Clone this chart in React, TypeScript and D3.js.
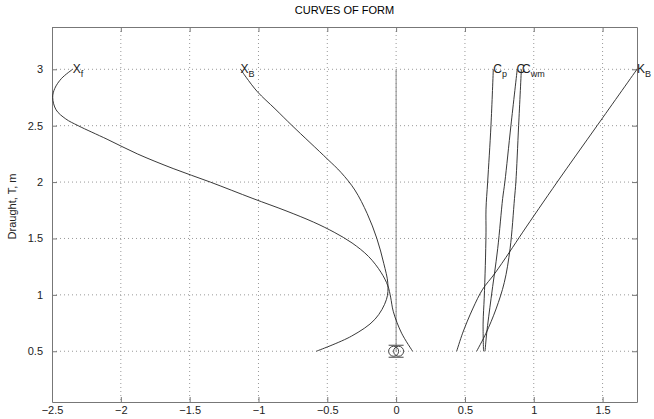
import * as d3 from 'd3';
import { useEffect, useRef } from 'react';

// curves of form: [x, draught] pairs
const xfPoints: [number, number][] = [
  [-2.35, 3.0], [-2.43, 2.92], [-2.48, 2.83], [-2.495, 2.75], [-2.47, 2.64],
  [-2.40, 2.56], [-2.31, 2.5], [-2.1, 2.38], [-1.88, 2.25], [-1.62, 2.12],
  [-1.35, 2.0], [-1.04, 1.854], [-0.8, 1.745], [-0.6, 1.645], [-0.45, 1.555],
  [-0.32, 1.46], [-0.2, 1.34], [-0.11, 1.2], [-0.06, 1.08], [-0.04, 0.98],
  [-0.02, 0.85], [0.04, 0.66], [0.12, 0.5],
];
const xbPoints: [number, number][] = [
  [-1.13, 3.0], [-1.09, 2.93], [-1.007, 2.8], [-0.88, 2.65], [-0.755, 2.5],
  [-0.5, 2.205], [-0.4, 2.085], [-0.3, 1.93], [-0.21, 1.72], [-0.14, 1.5],
  [-0.09, 1.28], [-0.06, 1.1], [-0.07, 0.96], [-0.154, 0.783], [-0.324, 0.634],
  [-0.58, 0.5],
];
const cpPoints: [number, number][] = [
  [0.706, 3.0], [0.689, 2.5], [0.665, 2.0], [0.653, 1.76], [0.653, 1.556],
  [0.648, 1.26], [0.64, 0.97], [0.632, 0.75], [0.635, 0.5],
];
const cbPoints: [number, number][] = [
  [0.88, 3.0], [0.834, 2.5], [0.79, 2.0], [0.774, 1.854], [0.738, 1.41],
  [0.69, 0.97], [0.658, 0.66], [0.646, 0.5],
];
const cwmPoints: [number, number][] = [
  [0.91, 3.0], [0.89, 2.5], [0.87, 2.0], [0.86, 1.854], [0.828, 1.41],
  [0.786, 1.11], [0.726, 0.875], [0.653, 0.66], [0.585, 0.5],
];
const kbPoints: [number, number][] = [
  [1.75, 3.0], [1.46, 2.5], [1.17, 2.0], [0.92, 1.556], [0.823, 1.378],
  [0.714, 1.185], [0.629, 1.05], [0.556, 0.875], [0.483, 0.66], [0.44, 0.5],
];
const centreLine: [number, number][] = [[0, 0.5], [0, 3.0]];
const markerXs = [-0.018, 0.018];
const markerDraught = 0.5;

// curve labels: main letter, subscript, anchor point
const curveLabels = [
  { main: 'X', sub: 'f', x: -2.35, y: 3.0 },
  { main: 'X', sub: 'B', x: -1.13, y: 3.0 },
  { main: 'C', sub: 'p', x: 0.706, y: 3.0 },
  { main: 'C', sub: '', x: 0.875, y: 3.0 },
  { main: 'C', sub: 'wm', x: 0.915, y: 3.0 },
  { main: 'K', sub: 'B', x: 1.75, y: 3.0 },
];

const xTicks = [-2.5, -2, -1.5, -1, -0.5, 0, 0.5, 1, 1.5];
const yTicks = [0.5, 1, 1.5, 2, 2.5, 3];

const WIDTH = 654;
const HEIGHT = 419;
const FONT = 'Arial, "Liberation Sans", sans-serif';

export default function App() {
  const ref = useRef<SVGSVGElement>(null);

  useEffect(() => {
    const svg = d3.select(ref.current);
    svg.selectAll('*').remove();

    const margin = { top: 27, right: 17, bottom: 17, left: 52 };
    const innerWidth = WIDTH - margin.left - margin.right;
    const innerHeight = HEIGHT - margin.top - margin.bottom;

    const x = d3.scaleLinear().domain([-2.5, 1.75]).range([0, innerWidth]);
    const y = d3.scaleLinear().domain([0.05, 3.375]).range([innerHeight, 0]);

    svg.append('rect').attr('width', WIDTH).attr('height', HEIGHT).attr('fill', '#fff');

    svg.append('text')
      .attr('x', margin.left + innerWidth / 2)
      .attr('y', 14)
      .attr('text-anchor', 'middle')
      .style('font-family', FONT)
      .style('font-size', '11px')
      .text('CURVES OF FORM');

    const g = svg.append('g').attr('transform', `translate(${margin.left},${margin.top})`);

    // dotted grid
    g.append('g')
      .selectAll('line')
      .data(xTicks.filter((t) => t > -2.5))
      .enter()
      .append('line')
      .attr('x1', (d) => x(d))
      .attr('x2', (d) => x(d))
      .attr('y1', 0)
      .attr('y2', innerHeight)
      .attr('stroke', '#999')
      .attr('stroke-dasharray', '1,3');
    g.append('g')
      .selectAll('line')
      .data(yTicks)
      .enter()
      .append('line')
      .attr('x1', 0)
      .attr('x2', innerWidth)
      .attr('y1', (d) => y(d))
      .attr('y2', (d) => y(d))
      .attr('stroke', '#999')
      .attr('stroke-dasharray', '1,3');

    // axes with inside ticks
    const bottom = g.append('g')
      .attr('transform', `translate(0,${innerHeight})`)
      .call(d3.axisBottom(x).tickValues(xTicks).tickSizeInner(-5).tickSizeOuter(0).tickPadding(2).tickFormat(d3.format('')));
    const left = g.append('g')
      .call(d3.axisLeft(y).tickValues(yTicks).tickSizeInner(-5).tickSizeOuter(0).tickPadding(9).tickFormat(d3.format('')));
    g.append('g')
      .call(d3.axisTop(x).tickValues(xTicks).tickSizeInner(-5).tickSizeOuter(0).tickFormat(() => ''));
    g.append('g')
      .attr('transform', `translate(${innerWidth},0)`)
      .call(d3.axisRight(y).tickValues(yTicks).tickSizeInner(-5).tickSizeOuter(0).tickFormat(() => ''));

    g.selectAll('.domain').attr('stroke', '#777');
    g.selectAll('.tick line').attr('stroke', '#777');
    [bottom, left].forEach((axis) => {
      axis.selectAll('text')
        .style('font-family', FONT)
        .style('font-size', '11px')
        .attr('fill', '#222')
        .text((d: any) => String(d).replace('-', '\u2212'));
    });
    bottom.selectAll('text').attr('y', 4);

    const line = d3.line<[number, number]>()
      .x((d) => x(d[0]))
      .y((d) => y(d[1]))
      .curve(d3.curveCatmullRom.alpha(0.5));

    // centre line
    g.append('path')
      .attr('d', line(centreLine))
      .attr('fill', 'none')
      .attr('stroke', '#888')
      .attr('stroke-width', 1);

    [xfPoints, xbPoints, cpPoints, cbPoints, cwmPoints, kbPoints].forEach((pts) => {
      g.append('path')
        .attr('d', line(pts))
        .attr('fill', 'none')
        .attr('stroke', '#222')
        .attr('stroke-width', 0.9);
    });

    // markers at the keel
    g.selectAll('circle.marker')
      .data(markerXs)
      .enter()
      .append('circle')
      .attr('class', 'marker')
      .attr('cx', (d) => x(d))
      .attr('cy', y(markerDraught))
      .attr('r', 5)
      .attr('fill', 'none')
      .attr('stroke', '#333')
      .attr('stroke-width', 0.9);
    [-6, 6].forEach((dy) => {
      g.append('line')
        .attr('x1', x(markerXs[0]) - 5)
        .attr('x2', x(markerXs[1]) + 5)
        .attr('y1', y(markerDraught) + dy)
        .attr('y2', y(markerDraught) + dy)
        .attr('stroke', '#333')
        .attr('stroke-width', 0.9);
    });

    // curve labels
    curveLabels.forEach((lab) => {
      const t = g.append('text')
        .attr('x', x(lab.x))
        .attr('y', y(lab.y) + 4)
        .style('font-family', FONT)
        .style('font-size', '12px')
        .attr('fill', '#222');
      t.append('tspan').text(lab.main);
      if (lab.sub) {
        t.append('tspan')
          .attr('dy', 4)
          .style('font-size', '9px')
          .text(lab.sub);
      }
    });

    g.append('text')
      .attr('transform', 'rotate(-90)')
      .attr('x', -innerHeight / 2 + 8)
      .attr('y', -36)
      .attr('text-anchor', 'middle')
      .style('font-family', FONT)
      .style('font-size', '11px')
      .attr('fill', '#222')
      .text('Draught, T, m');
  }, []);

  return (
    <svg
      ref={ref}
      width={WIDTH}
      height={HEIGHT}
      style={{ position: 'absolute', left: 0, top: 0 }}
    />
  );
}
